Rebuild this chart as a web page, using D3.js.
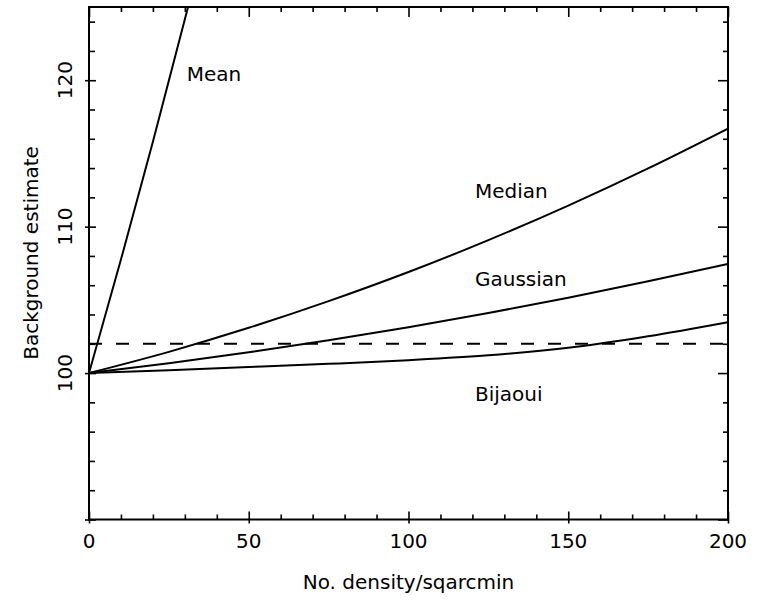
<!DOCTYPE html>
<html><head><meta charset="utf-8">
<script src="https://cdn.jsdelivr.net/npm/d3@7"></script>
<style>body{margin:0;background:#fff}svg{display:block}text{font-family:"DejaVu Sans",sans-serif;font-size:20px;fill:#000}</style>
</head><body><div id="chart"></div>
<script>
// Data (density in /sqarcmin, background estimate)
const xTicks = [0, 50, 100, 150, 200];
const yTicks = [100, 110, 120];
const meanCurve = [[0,100],[10,107.75],[20,115.8],[31,125]];
const medianCurve = [[0,100],[25,101.45],[50,103.09],[75,104.91],[100,106.9],[125,109.08],[150,111.44],[175,113.98],[200,116.7]];
const gaussianCurve = [[0,100],[25,100.67],[50,101.42],[75,102.24],[100,103.13],[125,104.1],[150,105.15],[175,106.27],[200,107.46]];
const bijaouiCurve = [[0,100],[25,100.2],[50,100.41],[75,100.63],[100,100.88],[125,101.21],[150,101.73],[175,102.52],[200,103.48]];
const referenceLevel = 102;
const curveLabels = [
  {name:"Mean", x:186.7, y:80.7},
  {name:"Median", x:475, y:197.7},
  {name:"Gaussian", x:475, y:286},
  {name:"Bijaoui", x:475, y:401}
];

const W = 761, H = 601;
const L = 89, R = 728, T = 7, B = 519.5;
const svg = d3.select("#chart").append("svg").attr("width", W).attr("height", H);
const x = d3.scaleLinear().domain([0, 200]).range([L, R]);
const y = d3.scaleLinear().domain([90, 125]).range([B, T]);

svg.append("clipPath").attr("id","clip").append("rect")
  .attr("x", L).attr("y", T).attr("width", R-L).attr("height", B-T);

const minorX = d3.range(0, 201, 10).filter(v => v % 50 !== 0);
const minorY = d3.range(90, 126, 2).filter(v => v % 10 !== 0);
const majorY = d3.range(90, 126, 10);

function styleAxis(g){ g.select(".domain").remove(); g.selectAll("line").attr("stroke","#000").attr("stroke-width",1.6); g.selectAll("text").remove(); }

// bottom
svg.append("g").attr("transform",`translate(0,${B})`).call(d3.axisBottom(x).tickValues(xTicks).tickSize(-8)).call(styleAxis);
svg.append("g").attr("transform",`translate(0,${B})`).call(d3.axisBottom(x).tickValues(xTicks).tickSize(4)).call(styleAxis);
svg.append("g").attr("transform",`translate(0,${B})`).call(d3.axisBottom(x).tickValues(minorX).tickSize(-5)).call(styleAxis);
// top
svg.append("g").attr("transform",`translate(0,${T})`).call(d3.axisTop(x).tickValues(xTicks).tickSize(-10)).call(styleAxis);
svg.append("g").attr("transform",`translate(0,${T})`).call(d3.axisTop(x).tickValues(minorX).tickSize(-5)).call(styleAxis);
// left
svg.append("g").attr("transform",`translate(${L},0)`).call(d3.axisLeft(y).tickValues(majorY).tickSize(-7)).call(styleAxis);
svg.append("g").attr("transform",`translate(${L},0)`).call(d3.axisLeft(y).tickValues(majorY).tickSize(4)).call(styleAxis);
svg.append("g").attr("transform",`translate(${L},0)`).call(d3.axisLeft(y).tickValues(minorY).tickSize(-6)).call(styleAxis);
// right
svg.append("g").attr("transform",`translate(${R},0)`).call(d3.axisRight(y).tickValues(majorY).tickSize(-10)).call(styleAxis);
svg.append("g").attr("transform",`translate(${R},0)`).call(d3.axisRight(y).tickValues(minorY).tickSize(-5)).call(styleAxis);

// frame
svg.append("rect").attr("x",L).attr("y",T).attr("width",R-L).attr("height",B-T)
  .attr("fill","none").attr("stroke","#000").attr("stroke-width",2);

// tick labels
svg.append("g").selectAll("text").data(xTicks).join("text")
  .attr("x", d => x(d)).attr("y", 548).attr("text-anchor","middle").text(d => d);
svg.append("g").selectAll("text").data(yTicks).join("text")
  .attr("transform", d => `translate(71.5,${y(d)}) rotate(-90)`).attr("text-anchor","middle").text(d => d);

// axis titles
svg.append("text").attr("x", (L+R)/2).attr("y", 589).attr("text-anchor","middle").text("No. density/sqarcmin");
svg.append("text").attr("transform","translate(38,253) rotate(-90)").attr("text-anchor","middle").text("Background estimate");

// reference dashed line
svg.append("line").attr("x1", x(0)).attr("x2", x(200)).attr("y1", y(referenceLevel)).attr("y2", y(referenceLevel))
  .attr("stroke","#000").attr("stroke-width",2).attr("stroke-dasharray","13,14");

// curves
const line = d3.line().x(d => x(d[0])).y(d => y(d[1])).curve(d3.curveMonotoneX);
const cg = svg.append("g").attr("clip-path","url(#clip)");
[meanCurve, medianCurve, gaussianCurve, bijaouiCurve].forEach(c => {
  cg.append("path").datum(c).attr("d", line).attr("fill","none").attr("stroke","#000").attr("stroke-width",2);
});

// curve labels
svg.append("g").selectAll("text").data(curveLabels).join("text")
  .attr("x", d => d.x).attr("y", d => d.y).text(d => d.name);
</script></body></html>
